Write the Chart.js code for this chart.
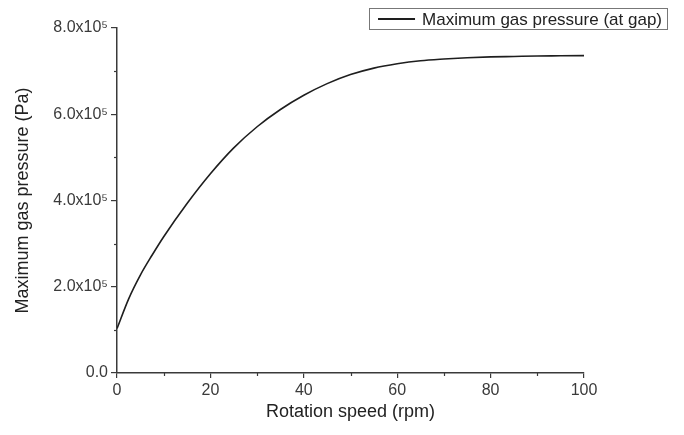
<!DOCTYPE html>
<html>
<head>
<meta charset="utf-8">
<script src="https://cdn.jsdelivr.net/npm/chart.js@4"></script>
<style>
html,body{margin:0;padding:0;background:#fff;}
#wrap{width:684px;height:435px;position:relative;}
</style>
</head>
<body>
<div id="wrap"><canvas id="c" width="684" height="435"></canvas></div>
<script>
// Data
const rpm = [0, 2.5, 5, 7.5, 10, 15, 20, 25, 30, 35, 40, 45, 50, 55, 60, 65, 70, 75, 80, 85, 90, 95, 100];
const pressure = [1.03e5, 1.72e5, 2.27e5, 2.73e5, 3.16e5, 3.93e5, 4.62e5, 5.22e5, 5.71e5, 6.11e5, 6.44e5, 6.71e5, 6.92e5, 7.07e5, 7.17e5, 7.24e5, 7.28e5, 7.31e5, 7.33e5, 7.34e5, 7.35e5, 7.355e5, 7.36e5];
const seriesLabel = 'Maximum gas pressure (at gap)';
const xTitle = 'Rotation speed (rpm)';
const yTitle = 'Maximum gas pressure (Pa)';
const xMajorTicks = [0, 20, 40, 60, 80, 100];
const yMajorTickLabels = ['0.0', '2.0x10⁵', '4.0x10⁵', '6.0x10⁵', '8.0x10⁵'];

const FONT = 'Liberation Sans, Arial, sans-serif';
const TXT = '#3a3a3a';
const AX = '#3a3a3a';

const minorTicks = {
  id: 'minorTicks',
  afterDraw(chart) {
    const ctx = chart.ctx;
    const xs = chart.scales.x, ys = chart.scales.y;
    ctx.save();
    ctx.strokeStyle = AX;
    ctx.lineWidth = 1.2;
    for (let v = 10; v < 100; v += 20) {
      const px = Math.round(xs.getPixelForValue(v)) + 0.5;
      ctx.beginPath();
      ctx.moveTo(px, ys.bottom);
      ctx.lineTo(px, ys.bottom + 3);
      ctx.stroke();
    }
    for (let v = 1e5; v < 8e5; v += 2e5) {
      const py = Math.round(ys.getPixelForValue(v)) + 0.5;
      ctx.beginPath();
      ctx.moveTo(xs.left, py);
      ctx.lineTo(xs.left - 3, py);
      ctx.stroke();
    }
    ctx.restore();
  }
};

const boxLegend = {
  id: 'boxLegend',
  afterDraw(chart) {
    const ctx = chart.ctx;
    const ds = chart.data.datasets[0];
    ctx.save();
    ctx.font = '17px ' + FONT;
    const tw = ctx.measureText(ds.label).width;
    const right = 667, top = 8.5, h = 21;
    const textX = right - 5 - tw;
    const lineX1 = textX - 7, lineX0 = lineX1 - 37;
    const left = lineX0 - 9;
    ctx.strokeStyle = '#777';
    ctx.lineWidth = 1;
    ctx.strokeRect(Math.round(left) + 0.5, top, Math.round(right - left), h);
    ctx.strokeStyle = ds.borderColor;
    ctx.lineWidth = 2;
    ctx.beginPath();
    ctx.moveTo(lineX0, top + h / 2);
    ctx.lineTo(lineX1, top + h / 2);
    ctx.stroke();
    ctx.fillStyle = '#222';
    ctx.textBaseline = 'middle';
    ctx.fillText(ds.label, textX, top + h / 2 + 1);
    ctx.restore();
  }
};

new Chart(document.getElementById('c'), {
  type: 'line',
  data: {
    datasets: [{
      label: seriesLabel,
      data: rpm.map((x, i) => ({ x: x, y: pressure[i] })),
      borderColor: '#1e1e1e',
      borderWidth: 1.6,
      pointRadius: 0,
      fill: false,
      cubicInterpolationMode: 'monotone'
    }]
  },
  options: {
    responsive: false,
    animation: false,
    devicePixelRatio: 1,
    layout: { padding: { left: 0, top: 28, right: 100, bottom: 0 } },
    plugins: { legend: { display: false }, tooltip: { enabled: false } },
    scales: {
      x: {
        type: 'linear',
        min: 0, max: 100,
        afterBuildTicks(scale) { scale.ticks = xMajorTicks.map(v => ({ value: v })); },
        afterFit(scale) { scale.height = 62; },
        border: { display: true, color: AX, width: 1.5 },
        grid: { display: true, drawOnChartArea: false, drawTicks: true, tickLength: 5, color: AX, lineWidth: 1.2 },
        ticks: { color: TXT, font: { family: FONT, size: 16 }, padding: 3, maxRotation: 0, callback: v => String(v) },
        title: { display: true, text: xTitle, color: '#222', font: { family: FONT, size: 18 }, padding: { top: 12, bottom: 12 } }
      },
      y: {
        type: 'linear',
        min: 0, max: 8e5,
        afterBuildTicks(scale) { scale.ticks = yMajorTickLabels.map((t, i) => ({ value: i * 2e5 })); },
        afterFit(scale) { scale.width = 117; },
        border: { display: true, color: AX, width: 1.5 },
        grid: { display: true, drawOnChartArea: false, drawTicks: true, tickLength: 6, color: AX, lineWidth: 1.2 },
        ticks: { color: TXT, font: { family: FONT, size: 16 }, padding: 3, callback: (v) => yMajorTickLabels[Math.round(v / 2e5)] },
        title: { display: true, text: yTitle, color: '#222', font: { family: FONT, size: 18 }, padding: { top: 12, bottom: 12 } }
      }
    }
  },
  plugins: [minorTicks, boxLegend]
});
</script>
</body>
</html>
